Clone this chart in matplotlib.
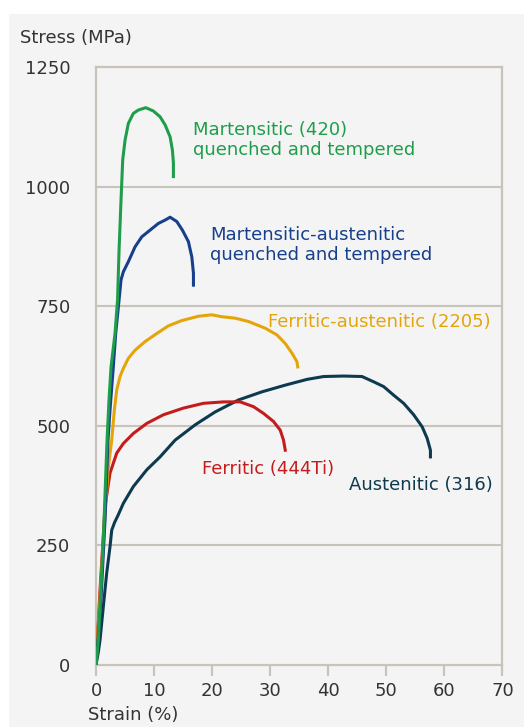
"""Stress-strain curves of stainless steel families.

Output: out.png
"""
import matplotlib.pyplot as plt
from matplotlib.patches import Rectangle

BG = "#f4f4f4"
FRAME = "#c9c4bb"
TXT = "#333333"

# ---- curve data (strain %, stress MPa) ----
mart_strain = [0, 0.40, 1.26, 1.90, 2.24, 2.59, 3.28, 3.71, 3.97, 4.31, 4.60, 5.0,
               5.57, 6.43, 7.29, 8.57, 9.88, 11.03, 11.90, 12.76, 13.16, 13.33, 13.33]
mart_stress = [0, 52, 261, 470, 554, 623, 694, 763, 867, 972, 1056, 1097,
               1132, 1153, 1160, 1165, 1158, 1146, 1129, 1104, 1076, 1049, 1021]

martaus_strain = [0, 0.86, 1.55, 2.07, 2.41, 2.98, 3.40, 3.97, 4.31, 4.71, 5.57, 6.72,
                  7.88, 9.31, 10.74, 11.90, 12.76, 13.91, 14.88, 15.91, 16.5, 16.78, 16.78]
martaus_stress = [0, 136, 303, 470, 533, 623, 694, 763, 805, 822, 843, 874,
                  895, 909, 923, 930, 936, 927, 909, 885, 853, 819, 794]

duplex_strain = [0, 0.69, 1.38, 2.07, 2.71, 3.16, 3.57, 4.14, 4.71, 5.57, 6.72, 8.45,
                 10.47, 12.47, 14.78, 17.64, 19.95, 21.67, 23.97, 26.26, 29.14, 31.16,
                 32.59, 33.74, 34.6, 34.74]
duplex_stress = [0, 136, 282, 408, 470, 533, 575, 603, 620, 641, 658, 676,
                 693, 709, 720, 729, 732, 728, 725, 718, 704, 690,
                 672, 652, 634, 623]

ferr_strain = [0, 0.69, 1.21, 1.55, 2.41, 3.57, 4.71, 6.43, 8.74, 11.60, 15.05, 18.5,
               21.95, 24.83, 27.12, 28.84, 30.57, 31.72, 32.29, 32.59]
ferr_stress = [0, 157, 261, 331, 401, 443, 463, 484, 505, 523, 537, 547,
               550, 550, 540, 526, 509, 491, 470, 449]

aus_strain = [0, 0.40, 0.69, 1.26, 1.84, 2.41, 2.71, 3.20, 3.80, 4.71, 6.43, 8.74, 11.03,
              13.62, 17.07, 20.52, 24.53, 28.57, 32.59, 36.33, 39.19, 42.64, 45.81,
              47.81, 49.53, 51.26, 52.98, 54.71, 56.16, 57.02, 57.59, 57.59]
aus_stress = [0, 27, 52, 122, 192, 247, 282, 298, 313, 338, 373, 408, 435,
              470, 502, 529, 554, 571, 585, 597, 603, 604, 603,
              592, 582, 564, 547, 523, 498, 474, 449, 435]

x_ticks = [0, 10, 20, 30, 40, 50, 60, 70]
y_ticks = [0, 250, 500, 750, 1000, 1250]


def main():
    fig = plt.figure(figsize=(5.24, 7.27), dpi=100, facecolor="white")
    # grey panel with a thin white margin at top and left
    fig.patches.append(Rectangle((9 / 524, 0), 1, 1 - 14 / 727, transform=fig.transFigure,
                                 facecolor=BG, edgecolor="none", zorder=-10))

    ax = fig.add_axes([96 / 524, 62 / 727, 406.5 / 524, 598 / 727])
    ax.set_facecolor(BG)
    ax.set_xlim(0, 70)
    ax.set_ylim(0, 1250)

    for s in ax.spines.values():
        s.set_color(FRAME)
        s.set_linewidth(1.6)

    ax.set_xticks(x_ticks)
    ax.set_yticks(y_ticks)
    ax.tick_params(axis="x", length=8, width=1.6, color=FRAME, pad=4,
                   labelsize=13, labelcolor=TXT)
    ax.tick_params(axis="y", length=0, pad=18.5, labelsize=13, labelcolor=TXT)
    for yv in y_ticks[1:-1]:
        ax.axhline(yv, color=FRAME, lw=1.5, zorder=1)

    lw = 2.2
    ax.plot(aus_strain, aus_stress, color="#0e3a4f", lw=lw, zorder=3)
    ax.plot(ferr_strain, ferr_stress, color="#c41c1c", lw=lw, zorder=4)
    ax.plot(duplex_strain, duplex_stress, color="#e5a50a", lw=lw, zorder=4)
    ax.plot(martaus_strain, martaus_stress, color="#173f8c", lw=lw, zorder=5)
    ax.plot(mart_strain, mart_stress, color="#1e9e4a", lw=lw, zorder=6)

    fs = 13
    ax.text(16.7, 1097, "Martensitic (420)\nquenched and tempered", color="#1e9e4a",
            fontsize=fs, va="center", ha="left", linespacing=1.1)
    ax.text(19.7, 878, "Martensitic-austenitic\nquenched and tempered", color="#173f8c",
            fontsize=fs, va="center", ha="left", linespacing=1.1)
    ax.text(29.7, 717, "Ferritic-austenitic (2205)", color="#e5a50a",
            fontsize=fs, va="center", ha="left")
    ax.text(18.3, 410, "Ferritic (444Ti)", color="#c41c1c",
            fontsize=fs, va="center", ha="left")
    ax.text(43.6, 376, "Austenitic (316)", color="#0e3a4f",
            fontsize=fs, va="center", ha="left")

    fig.text(20 / 524, 1 - 38 / 727, "Stress (MPa)", fontsize=13, color=TXT,
             ha="left", va="center")
    fig.text(88 / 524, 1 - 715 / 727, "Strain (%)", fontsize=13, color=TXT,
             ha="left", va="center")

    fig.savefig("out.png", dpi=100, facecolor="white")
    plt.close(fig)


if __name__ == "__main__":
    main()
